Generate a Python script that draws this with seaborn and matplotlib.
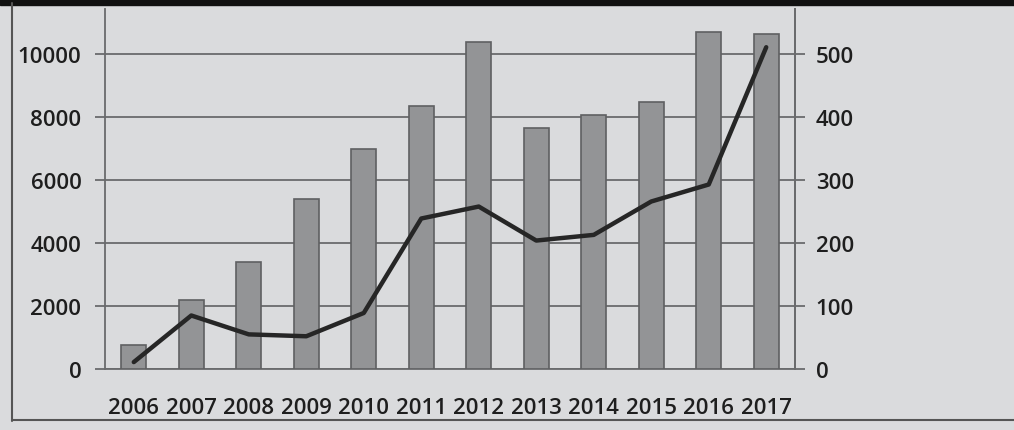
import numpy as np
import pandas as pd
import matplotlib.pyplot as plt
import seaborn as sns
from matplotlib.patches import Rectangle

# Data
years = ['2006', '2007', '2008', '2009', '2010', '2011',
         '2012', '2013', '2014', '2015', '2016', '2017']
bar_values = [760, 2190, 3400, 5400, 6980, 8350,
              10380, 7650, 8060, 8480, 10700, 10630]
line_values = [11, 85, 55, 52, 89, 239,
               258, 204, 213, 266, 293, 511]

left_ticks = [0, 2000, 4000, 6000, 8000, 10000]
right_ticks = [0, 100, 200, 300, 400, 500]

df = pd.DataFrame({'year': years, 'bars': bar_values, 'line': line_values})

sns.set_style('white')
plt.rcParams['font.family'] = ['Open Sans', 'DejaVu Sans']
plt.rcParams['font.weight'] = 'semibold'

bg = '#dadbdd'
fig = plt.figure(figsize=(10.14, 4.31), dpi=100, facecolor=bg)
ax = fig.add_axes([0.1036, 0.1415, 0.6804, 0.835])
ax.set_facecolor(bg)

sns.barplot(data=df, x='year', y='bars', color='#939496', width=0.43,
            edgecolor='#5f6062', linewidth=1.2, saturation=1, ax=ax, zorder=3)

ax.set_ylim(0, 11430)
ax.set_xlim(-0.5, len(years) - 0.5)
ax.set_yticks(left_ticks)
ax.set_yticklabels([str(t) for t in left_ticks])
ax.set_xlabel('')
ax.set_ylabel('')
ax.grid(axis='y', color='#6a6b6d', linewidth=1.3, zorder=0)
ax.set_axisbelow(True)

# x ticks between categories
ax.set_xticks(np.arange(len(years)))
ax.set_xticklabels(years)
ax.set_xticks(np.arange(len(years) + 1) - 0.5, minor=True)
ax.tick_params(axis='x', which='major', length=0, pad=20, labelsize=16,
               labelcolor='#1e1e1e')
ax.tick_params(axis='x', which='minor', length=6, width=1.3, color='#6a6b6d',
               direction='out')
ax.tick_params(axis='y', length=7, width=1.3, color='#6a6b6d', pad=10,
               labelsize=16, labelcolor='#1e1e1e')

ax.spines['top'].set_visible(False)
for side in ['left', 'right', 'bottom']:
    ax.spines[side].set_color('#6a6b6d')
    ax.spines[side].set_linewidth(1.3)

ax2 = ax.twinx()
sns.lineplot(x=np.arange(len(years)), y=df['line'], color='#262626',
             linewidth=3.2, ax=ax2, zorder=4)
ax2.set_ylim(0, 571.5)
ax2.set_yticks(right_ticks)
ax2.set_yticklabels([str(t) for t in right_ticks])
ax2.set_ylabel('')
ax2.tick_params(axis='y', length=7, width=1.3, color='#6a6b6d', pad=8,
                labelsize=16, labelcolor='#1e1e1e')
ax2.spines['top'].set_visible(False)
ax2.spines['left'].set_visible(False)
ax2.spines['bottom'].set_visible(False)
ax2.spines['right'].set_color('#6a6b6d')
ax2.spines['right'].set_linewidth(1.3)

# dark strip at the top and outer frame lines from the photo
fig.patches.append(Rectangle((0, 0.986), 1, 0.014, transform=fig.transFigure,
                             color='#111111', zorder=0))
fig.add_artist(plt.Line2D([0.012, 0.012], [0.02, 0.99], color='#555555',
                          linewidth=1.5, transform=fig.transFigure))
fig.add_artist(plt.Line2D([0.012, 1.0], [0.023, 0.023], color='#555555',
                          linewidth=1.5, transform=fig.transFigure))

fig.savefig('out.png', dpi=100, facecolor=bg)
